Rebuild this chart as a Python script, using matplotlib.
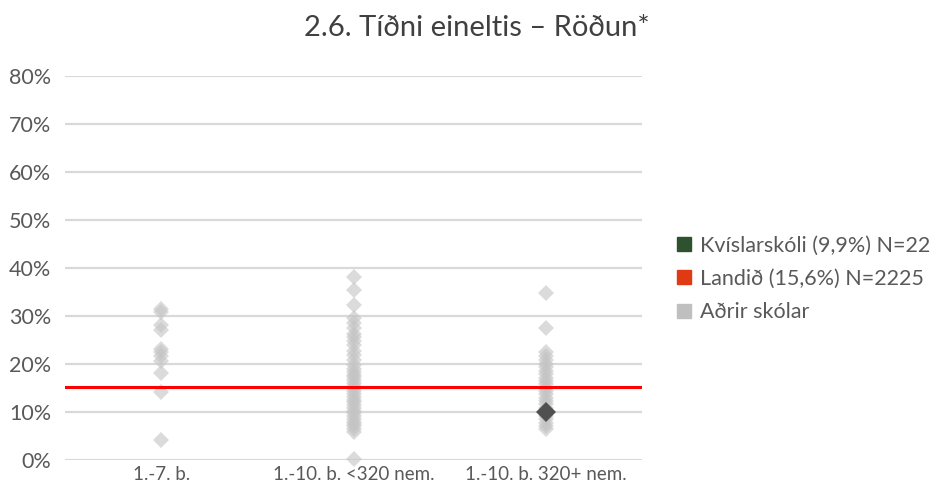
import matplotlib.pyplot as plt
from matplotlib.lines import Line2D

# data (percent)
categories = ["1.-7. b.", "1.-10. b. <320 nem.", "1.-10. b. 320+ nem."]
other_small = [31.5, 30.8, 28.2, 27.0, 23.2, 22.4, 21.6, 20.6, 18.2, 14.2, 4.2]
other_mid = [38.2, 35.4, 32.3, 29.6, 28.6, 27.4, 26.3, 25.7, 24.8, 23.9, 22.7,
             21.8, 20.9, 19.7, 18.9, 18.3, 17.8, 17.2, 16.6, 16.1, 15.4, 14.9,
             14.3, 13.8, 13.1, 12.6, 12.0, 11.4, 10.9, 10.2, 9.7, 9.1, 8.6,
             8.0, 7.5, 7.0, 6.4, 5.9, 0.3]
other_large = [34.8, 27.5, 22.6, 21.6, 20.9, 20.1, 19.4, 18.6, 17.9, 17.1,
               16.4, 15.8, 15.0, 14.4, 13.7, 13.0, 12.3, 11.6, 10.8, 9.2,
               8.5, 7.8, 7.1, 6.5]
school_name = "Kvíslarskóli"
school_cat = 2
school_value = 9.9
school_n = 22
country_value = 15.6
country_line = 15.2
country_n = 2225

text_col = "#595959"
plt.rcParams['font.family'] = ['Lato', 'DejaVu Sans']

fig = plt.figure(figsize=(9.36, 4.83), dpi=100)
ax = fig.add_axes([65 / 936, 23 / 483, 577 / 936, 384 / 483])

for i, vals in enumerate([other_small, other_mid, other_large]):
    ax.plot([i] * len(vals), vals, linestyle="none", marker="D", markersize=8,
            color="#c4c4c4", alpha=0.6, markeredgewidth=0, clip_on=False, zorder=3)

ax.axhline(country_line, color="#ff0000", linewidth=2.2, zorder=4)
ax.plot([school_cat], [school_value], linestyle="none", marker="D", markersize=10.5,
        color="#505050", markeredgewidth=0, zorder=5)

ax.set_xlim(-0.5, 2.5)
ax.set_ylim(0, 80)
ax.set_yticks(range(0, 81, 10))
ax.set_yticklabels([f"{v}%" for v in range(0, 81, 10)])
ax.set_xticks(range(len(categories)))
ax.set_xticklabels(categories)
ax.grid(axis="y", color="#d9d9d9", linewidth=1.6, zorder=0)
ax.set_axisbelow(True)
for s in ax.spines.values():
    s.set_visible(False)
ax.tick_params(axis="y", length=0, pad=10, labelsize=15.5, labelcolor=text_col)
ax.tick_params(axis="x", length=0, pad=4, labelsize=13.5, labelcolor=text_col)

fig.text(0.509, 0.942, "2.6. Tíðni eineltis – Röðun*", ha="center", va="center",
         fontsize=21, color="#404040")

handles = [
    Line2D([], [], linestyle="none", marker="s", markersize=10, color="#2e5230"),
    Line2D([], [], linestyle="none", marker="s", markersize=10, color="#e03a14"),
    Line2D([], [], linestyle="none", marker="s", markersize=10, color="#bfbfbf"),
]
labels = [
    f"{school_name} ({str(school_value).replace('.', ',')}%) N={school_n}",
    f"Landið ({str(country_value).replace('.', ',')}%) N={country_n}",
    "Aðrir skólar",
]
leg = fig.legend(handles, labels, loc="upper left", bbox_to_anchor=(668 / 936, 1 - 227 / 483),
                 frameon=False, fontsize=15.5, handlelength=0.7, handletextpad=0.4,
                 labelspacing=0.62, borderaxespad=0)
for t in leg.get_texts():
    t.set_color(text_col)

fig.savefig("out.png", dpi=100)
